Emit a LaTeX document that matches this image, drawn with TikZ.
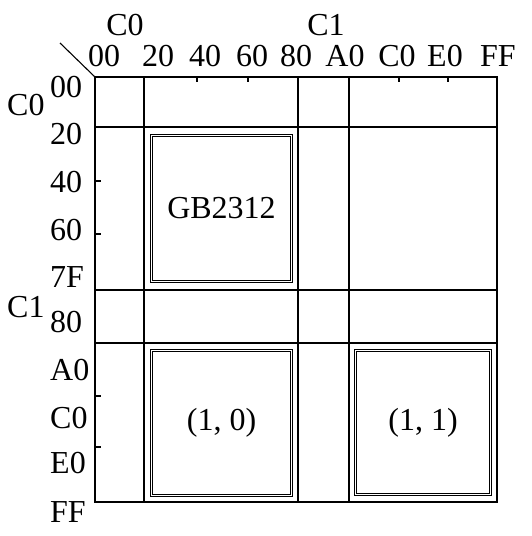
\documentclass[tikz,border=0pt]{standalone}
\usepackage{fontspec}
\setmainfont{Liberation Serif}
\usepackage{tikz}
\usetikzlibrary{positioning}

\tikzset{
	grid line/.style = {line width = 1.4pt},
	obszar/.style = {draw, rectangle, double, line width = 1pt, double distance = 1.2pt, inner sep = 0pt},
	etykieta/.style = {inner sep = 0pt, anchor = base},
	lewa/.style = {inner sep = 0pt, anchor = base west}
}

\begin{document}
\begin{tikzpicture}[x = 1pt, y = -1pt, font = \fontsize{32}{38}\selectfont]
		\useasboundingbox (0,0) rectangle (531,536);
		
		% siatka
		\draw[grid line] (95,77) rectangle (497,502);
		\draw[grid line] (144,77) -- (144,502);
		\draw[grid line] (298,77) -- (298,502);
		\draw[grid line] (349,77) -- (349,502);
		\draw[grid line] (95,127) -- (497,127);
		\draw[grid line] (95,290) -- (497,290);
		\draw[grid line] (95,343) -- (497,343);
		
		% kreski
		\foreach \x in {197,248,399,448}
			\draw[line width = 1.1pt] (\x,77) -- (\x,82);
		\foreach \y in {181,234,396,447}
			\draw[line width = 1.1pt] (95,\y) -- (101,\y);
		
		\coordinate (rog) at (95,77);
		\coordinate (skos) at (60,43);
		\draw[line width = 1.1pt] (skos) -- (rog);
		
		% obszary kodowe
		\node[obszar, minimum width = 140pt, minimum height = 145.6pt] (gb) at (221.5,208.3) {GB2312};
		\node[obszar, minimum width = 140pt, minimum height = 145pt] (p10) at (221.5,423) {(1, 0)};
		\node[obszar, minimum width = 135pt, minimum height = 144pt] (p11) at (423,422.5) {(1, 1)};
		
		% opisy u gory
		\node[etykieta] (gc0) at (125,35) {C0};
		\node[etykieta] (gc1) at (326,35) {C1};
		\node[etykieta] (g00) at (104,66) {00};
		\node[etykieta] (g20) at (158,66) {20};
		\node[etykieta] (g40) at (205,66) {40};
		\node[etykieta] (g60) at (252,66) {60};
		\node[etykieta] (g80) at (296,66) {80};
		\node[etykieta] (gA0) at (345,66) {A0};
		\node[etykieta] (gC0) at (397,66) {C0};
		\node[etykieta] (gE0) at (445,66) {E0};
		\node[etykieta] (gFF) at (498,66) {FF};
		
		% opisy z lewej
		\node[lewa] (lc0) at (7,115) {C0};
		\node[lewa] (lc1) at (7,317) {C1};
		\node[lewa] (l00) at (50,97) {00};
		\node[lewa] (l20) at (50,144) {20};
		\node[lewa] (l40) at (50,192) {40};
		\node[lewa] (l60) at (50,240) {60};
		\node[lewa] (l7F) at (50,287) {7F};
		\node[lewa] (l80) at (50,332) {80};
		\node[lewa] (lA0) at (50,380) {A0};
		\node[lewa] (lC0) at (50,428) {C0};
		\node[lewa] (lE0) at (50,473) {E0};
		\node[lewa] (lFF) at (50,522) {FF};
	\end{tikzpicture}
\end{document}
